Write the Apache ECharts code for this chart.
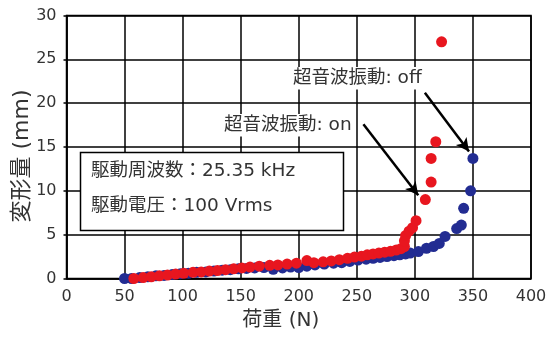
<!DOCTYPE html>
<html>
<head>
<meta charset="utf-8">
<script src="https://cdn.jsdelivr.net/npm/echarts/dist/echarts.min.js"></script>
<style>
  html, body { margin: 0; padding: 0; background: #fff; }
  #chart { width: 548px; height: 338px; }
</style>
</head>
<body>
<div id="chart"></div>
<script>
// Load (N) vs. deformation (mm), ultrasonic vibration on / off
const loadOn = [58, 66, 73, 80, 87, 94, 101, 109, 116, 123, 130, 137, 144, 151, 158, 166, 175, 182, 190, 198, 207, 213,
  221, 228, 235, 242, 248, 254, 259, 264, 269, 274, 279, 284, 288, 291, 291, 292, 295, 298, 301, 309, 314, 314, 318, 323];
const deformOn = [0.0, 0.1, 0.2, 0.3, 0.4, 0.5, 0.6, 0.7, 0.75, 0.85, 0.9, 1.0, 1.1, 1.2, 1.3, 1.4, 1.5, 1.55, 1.65, 1.75, 2.05, 1.8,
  1.9, 2.0, 2.15, 2.3, 2.45, 2.55, 2.7, 2.8, 2.9, 3.0, 3.1, 3.25, 3.4, 3.65, 4.3, 4.9, 5.4, 5.8, 6.6, 9.0, 11.0, 13.7, 15.6, 27.0];

const loadOff = [50, 56, 63, 70, 77, 84, 91, 98, 105, 112, 120, 127, 134, 141, 148, 155, 162, 170, 178, 186, 193, 200,
  207, 214, 222, 230, 237, 244, 251, 258, 264, 270, 276, 282, 287, 292, 296, 303, 310, 316, 321, 326, 336, 340, 342, 348, 350];
const deformOff = [0.0, 0.0, 0.1, 0.2, 0.3, 0.35, 0.45, 0.55, 0.6, 0.7, 0.75, 0.85, 0.95, 1.0, 1.1, 1.15, 1.2, 1.25, 1.05, 1.2, 1.3, 1.25,
  1.4, 1.55, 1.65, 1.75, 1.8, 1.95, 2.1, 2.2, 2.3, 2.4, 2.5, 2.6, 2.7, 2.8, 2.9, 3.07, 3.45, 3.65, 4.0, 4.8, 5.7, 6.1, 8.0, 10.0, 13.7];

const xTicks = [0, 50, 100, 150, 200, 250, 300, 350, 400];
const yTicks = [0, 5, 10, 15, 20, 25, 30];

const labelOn = '超音波振動: on';
const labelOff = '超音波振動: off';
const infoLines = ['駆動周波数：25.35 kHz', '駆動電圧：100 Vrms'];

const FONT = "'DejaVu Sans', 'Noto Sans CJK JP', sans-serif";
const TEXT = '#333333';
const RED = '#e8161f';
const BLUE = '#222c92';

const pairs = (xs, ys) => xs.map((x, i) => [x, ys[i]]);

const chart = echarts.init(document.getElementById('chart'), null, { renderer: 'canvas' });

const axisCommon = {
  type: 'value',
  nameMoveOverlap: false,
  axisLine: { show: true, lineStyle: { color: '#000', width: 1.5 } },
  splitLine: { show: true, lineStyle: { color: '#000', width: 1.5 } },
  axisLabel: { color: TEXT, fontSize: 16, fontFamily: FONT, margin: 10 },
  nameTextStyle: { color: TEXT, fontSize: 20, fontFamily: FONT }
};

const arrowStyle = { color: '#000', width: 2.5, type: 'solid' };

chart.setOption({
  animation: false,
  backgroundColor: '#fff',
  grid: {
    left: 66.5, right: 17, top: 15.5, bottom: 59.5,
    containLabel: false, outerBoundsMode: 'none',
    show: true, borderColor: '#000', borderWidth: 1.5
  },
  xAxis: Object.assign({}, axisCommon, {
    min: xTicks[0], max: xTicks[xTicks.length - 1], interval: xTicks[1] - xTicks[0],
    axisTick: { show: false },
    name: '荷重 (N)', nameLocation: 'middle', nameGap: 32,
    nameTextStyle: Object.assign({}, axisCommon.nameTextStyle, { padding: [0, 36, 0, 0] })
  }),
  yAxis: Object.assign({}, axisCommon, {
    min: yTicks[0], max: yTicks[yTicks.length - 1], interval: yTicks[1] - yTicks[0],
    axisTick: { show: true, length: 3, lineStyle: { color: '#000', width: 1.5 } },
    name: '変形量 (mm)', nameLocation: 'middle', nameGap: 33,
    nameTextStyle: Object.assign({}, axisCommon.nameTextStyle, { fontSize: 22, padding: [0, 18, 0, 0] })
  }),
  series: [
    {
      name: 'off', type: 'scatter', symbol: 'circle', symbolSize: 11,
      itemStyle: { color: BLUE, opacity: 1 },
      data: pairs(loadOff, deformOff),
      z: 3,
      markLine: {
        silent: true, symbol: ['none', 'arrow'], symbolSize: [10, 13],
        label: { show: false }, lineStyle: arrowStyle, z: 5,
        data: [
          [{ coord: [255.7, 17.6] }, { coord: [302.9, 9.5] }],
          [{ coord: [308.6, 21.2] }, { coord: [346.6, 14.5] }]
        ]
      }
    },
    {
      name: 'on', type: 'scatter', symbol: 'circle', symbolSize: 11,
      itemStyle: { color: RED, opacity: 1 },
      data: pairs(loadOn, deformOn),
      z: 4
    }
  ],
  graphic: [
    {
      type: 'rect', z: 10,
      shape: { x: 80.5, y: 152.5, width: 263, height: 78 },
      style: { fill: '#fff', stroke: '#000', lineWidth: 1.5 }
    },
    {
      type: 'text', z: 11, left: 91, top: 162,
      style: { text: infoLines[0], fill: TEXT, font: '18.5px ' + FONT }
    },
    {
      type: 'text', z: 11, left: 91, top: 197,
      style: { text: infoLines[1], fill: TEXT, font: '18.5px ' + FONT }
    },
    {
      type: 'text', z: 11, left: 221, top: 114,
      style: { text: labelOn, fill: TEXT, font: '18.5px ' + FONT, backgroundColor: '#fff', padding: [2, 3, 2, 3] }
    },
    {
      type: 'text', z: 11, left: 290, top: 67,
      style: { text: labelOff, fill: TEXT, font: '18.5px ' + FONT, backgroundColor: '#fff', padding: [2, 3, 2, 3] }
    }
  ]
});
</script>
</body>
</html>
